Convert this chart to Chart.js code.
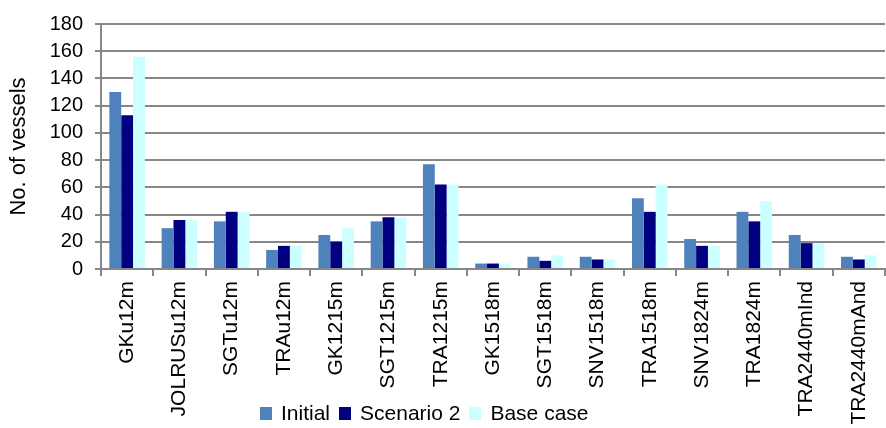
<!DOCTYPE html>
<html>
<head>
<meta charset="utf-8">
<script src="https://cdn.jsdelivr.net/npm/chart.js@4/dist/chart.umd.min.js"></script>
<style>
    html, body {
        margin: 0;
        padding: 0;
        background: #ffffff;
        overflow: hidden;
        width: 886px;
        height: 428px;
    }

    #wrap {
        position: relative;
        width: 889px;
        height: 428px;
    }

    #legenda {
        position: absolute;
        left: 260px;
        top: 401px;
        display: flex;
        align-items: center;
        font-family: "Liberation Sans", Arial, sans-serif;
        font-size: 21px;
        color: #000000;
        white-space: nowrap;
    }

    #legenda .item {
        display: flex;
        align-items: center;
        margin-right: 9px;
    }

    #legenda .caixa {
        width: 12px;
        height: 13px;
        margin-right: 9px;
    }
</style>
</head>
<body>
<div id="wrap">
    <canvas id="grafico"></canvas>
    <div id="legenda"></div>
</div>

<script>
const categorias = [
    "GKu12m",
    "JOLRUSu12m",
    "SGTu12m",
    "TRAu12m",
    "GK1215m",
    "SGT1215m",
    "TRA1215m",
    "GK1518m",
    "SGT1518m",
    "SNV1518m",
    "TRA1518m",
    "SNV1824m",
    "TRA1824m",
    "TRA2440mInd",
    "TRA2440mAnd"
];

const initial = [130, 30, 35, 14, 25, 35, 77, 4, 9, 9, 52, 22, 42, 25, 9];
const scenario2 = [113, 36, 42, 17, 20, 38, 62, 4, 6, 7, 42, 17, 35, 19, 7];
const baseCase = [156, 36, 42, 17, 30, 38, 62, 4, 10, 7, 62, 17, 50, 19, 10];

const nomesSeries = ["Initial", "Scenario 2", "Base case"];
const coresSeries = ["#4f81bd", "#000080", "#ccffff"];

const yTicks = [0, 20, 40, 60, 80, 100, 120, 140, 160, 180];

const fonte = "'Liberation Sans', Arial, sans-serif";
const cinza = "#878787";

const valores = [initial, scenario2, baseCase];

const grafico = document.getElementById("grafico");

new Chart(grafico, {
    type: "bar",

    data: {
        labels: categorias,
        datasets: valores.map((v, i) => ({
            label: nomesSeries[i],
            data: v,
            backgroundColor: coresSeries[i],
            borderWidth: 0,
            categoryPercentage: 0.68,
            barPercentage: 1
        }))
    },

    options: {
        responsive: true,
        maintainAspectRatio: false,
        animation: false,
        layout: {
            padding: { top: 8, right: 0, bottom: 0, left: 0 }
        },
        plugins: {
            legend: { display: false },
            tooltip: { enabled: false }
        },
        scales: {
            x: {
                grid: {
                    offset: true,
                    drawOnChartArea: false,
                    drawTicks: true,
                    tickLength: 7,
                    color: cinza,
                    lineWidth: 2
                },
                border: { color: cinza, width: 2 },
                ticks: {
                    autoSkip: false,
                    minRotation: 90,
                    maxRotation: 90,
                    padding: 5,
                    color: "#000000",
                    font: { family: fonte, size: 21 }
                },
                afterFit: (s) => { s.height = 159; }
            },

            y: {
                min: 0,
                max: 180,
                afterBuildTicks: (s) => {
                    s.ticks = yTicks.map(v => ({ value: v }));
                },
                grid: {
                    color: cinza,
                    lineWidth: 2,
                    tickLength: 6
                },
                border: { color: cinza, width: 2 },
                ticks: {
                    autoSkip: false,
                    padding: 12,
                    color: "#000000",
                    font: { family: fonte, size: 20 }
                },
                title: {
                    display: true,
                    text: "No. of vessels",
                    color: "#000000",
                    padding: { top: 6, bottom: 0 },
                    font: { family: fonte, size: 22 }
                },
                afterFit: (s) => { s.width = 101; }
            }
        }
    }
});

// legenda em html, sobreposta aos rótulos como no original
const legenda = document.getElementById("legenda");
nomesSeries.forEach((nome, i) => {
    const item = document.createElement("div");
    item.className = "item";
    const caixa = document.createElement("div");
    caixa.className = "caixa";
    caixa.style.background = coresSeries[i];
    const txt = document.createElement("span");
    txt.textContent = nome;
    item.appendChild(caixa);
    item.appendChild(txt);
    legenda.appendChild(item);
});
</script>
</body>
</html>
